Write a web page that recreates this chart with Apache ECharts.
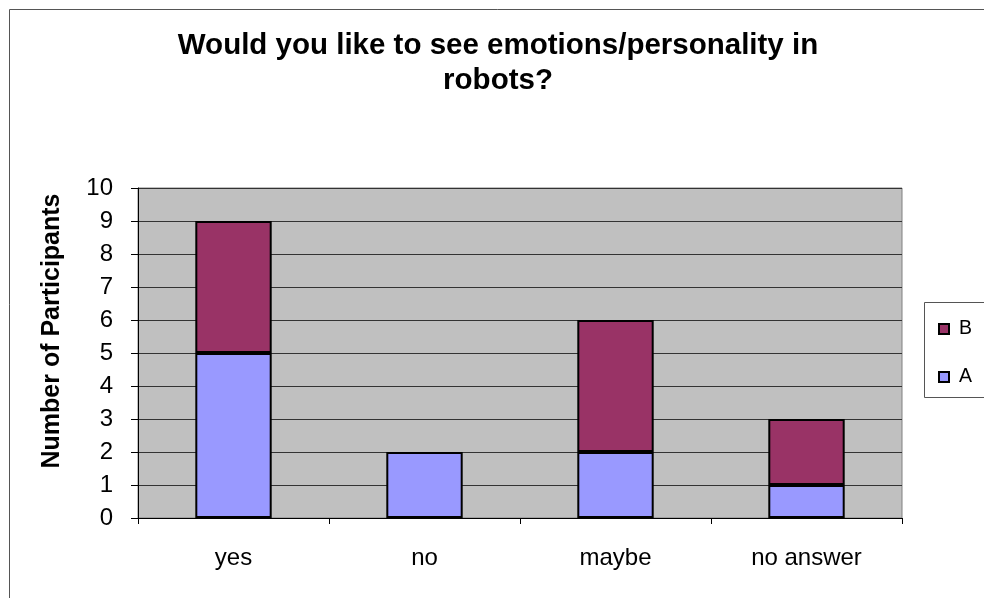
<!DOCTYPE html>
<html>
<head>
<meta charset="utf-8">
<script src="https://cdn.jsdelivr.net/npm/echarts@6/dist/echarts.min.js"></script>
<style>
  html, body { margin: 0; padding: 0; background: #fff; }
  #chart { width: 984px; height: 598px; }
</style>
</head>
<body>
<div id="chart"></div>
<script>
// Survey answers, stacked by group
const categories = ['yes', 'no', 'maybe', 'no answer'];
const seriesA = [5, 2, 2, 1];
const seriesB = [4, 0, 4, 2];
const yTicks = { min: 0, max: 10, interval: 1 };

const FONT = '"Liberation Sans", Arial, sans-serif';

const chart = echarts.init(document.getElementById('chart'), null, { renderer: 'canvas' });

chart.setOption({
  backgroundColor: '#ffffff',
  animation: false,
  title: {
    text: 'Would you like to see emotions/personality in\nrobots?',
    left: 493,
    top: 23,
    textAlign: 'center',
    textStyle: {
      fontFamily: FONT,
      fontSize: 29.5,
      fontWeight: 'bold',
      color: '#000',
      lineHeight: 35
    }
  },
  graphic: [
    {
      type: 'rect',
      shape: { x: 9.5, y: 9.5, width: 1000, height: 1000 },
      style: { fill: 'none', stroke: '#555', lineWidth: 1 },
      silent: true
    },
    {
      type: 'rect',
      shape: { x: 924.5, y: 302.5, width: 100, height: 95 },
      style: { fill: '#fff', stroke: '#555', lineWidth: 1 },
      silent: true,
      z: 1
    }
  ],
  legend: {
    orient: 'vertical',
    left: 933,
    top: 314,
    icon: 'rect',
    itemWidth: 10,
    itemHeight: 10,
    itemGap: 28,
    itemStyle: { borderColor: '#000', borderWidth: 2 },
    textStyle: { fontFamily: FONT, fontSize: 19.5, color: '#000', padding: [0, 0, 0, 5] },
    data: ['B', 'A'],
    z: 5
  },
  grid: {
    left: 138,
    right: 82,
    top: 188,
    bottom: 80,
    show: true,
    backgroundColor: '#c0c0c0',
    borderColor: '#808080',
    borderWidth: 1
  },
  xAxis: {
    type: 'category',
    data: categories,
    axisLine: { lineStyle: { color: '#000', width: 1 } },
    axisTick: { show: true, length: 6, alignWithLabel: false, lineStyle: { color: '#000' } },
    axisLabel: { fontFamily: FONT, fontSize: 24, color: '#000', margin: 28 }
  },
  yAxis: {
    type: 'value',
    min: yTicks.min,
    max: yTicks.max,
    interval: yTicks.interval,
    name: 'Number of Participants',
    nameLocation: 'middle',
    nameGap: 73,
    nameTextStyle: { fontFamily: FONT, fontSize: 25, fontWeight: 'bold', color: '#000', padding: [0, 0, 0, 44] },
    axisLine: { show: true, lineStyle: { color: '#000', width: 1 } },
    axisTick: { show: true, length: 7, lineStyle: { color: '#000' } },
    axisLabel: { fontFamily: FONT, fontSize: 24, color: '#000', margin: 25 },
    splitLine: { show: true, lineStyle: { color: '#333', width: 1 } }
  },
  series: [
    {
      name: 'A',
      type: 'bar',
      stack: 'total',
      barWidth: '40%',
      data: seriesA,
      itemStyle: { color: '#9999ff', borderColor: '#000', borderWidth: 2 }
    },
    {
      name: 'B',
      type: 'bar',
      stack: 'total',
      barWidth: '40%',
      data: seriesB.map(v => (v === 0 ? null : v)),
      itemStyle: { color: '#993366', borderColor: '#000', borderWidth: 2 }
    }
  ]
});
</script>
</body>
</html>
